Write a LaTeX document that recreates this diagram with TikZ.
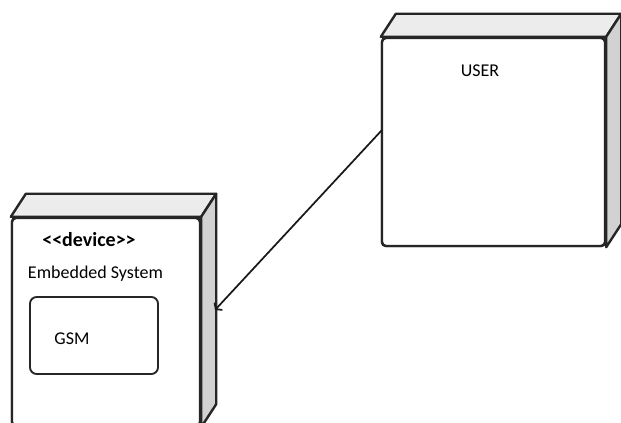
\documentclass[tikz,border=0pt]{standalone}
\usepackage{fontspec}
\setmainfont{Carlito}
\usetikzlibrary{arrows.meta,calc}
\definecolor{sidegray}{RGB}{210,210,210}
\definecolor{topgray}{RGB}{236,236,236}

\begin{document}
\begin{tikzpicture}[x=0.75pt,y=-0.75pt,
		front/.style={draw=black!85,line width=1.8pt,rounded corners=3pt,fill=white,inner sep=0pt},
		face/.style={draw=black!85,line width=1.8pt,line join=round},
		part/.style={draw=black!85,line width=1.4pt,rounded corners=5pt,inner sep=0pt},
		txt/.style={font=\fontsize{13.5}{16}\selectfont,text=black,inner sep=0pt},
		link/.style={draw=black!90,line width=1.3pt,-{Straight Barb[length=3pt,width=8pt]}}]
	\useasboundingbox (0,0) rectangle (621,423);
	\begin{scope}
		\clip (0,0) rectangle (621,423);
		% nodes
		\node[front,minimum width=167.25pt,minimum height=156pt] (user) at (493.5,142) {};
		\node[front,minimum width=141pt,minimum height=156pt] (embedded) at (106,322) {};
		\foreach \n in {user,embedded}{
			\draw[face,fill=topgray] (\n.north west) -- ++(15,-23) -- ($(\n.north east)+(15,-23)$) -- (\n.north east) -- cycle;
			\draw[face,fill=sidegray] (\n.north east) -- ++(15,-23) -- ($(\n.south east)+(15,-23)$) -- (\n.south east) -- cycle;
		}
		\node[front,minimum width=167.25pt,minimum height=156pt] at (user) {};
		\node[front,minimum width=141pt,minimum height=156pt] at (embedded) {};
		\node[part,minimum width=96pt,minimum height=57.75pt] (gsm) at (94,335.5) {};
		% labels
		\node[txt] (userlabel) at (480,71) {USER};
		\node[txt,font=\fontsize{15}{17}\selectfont\bfseries] (stereo) at (89,240) {<{}<device>{}>};
		\node[txt] (emblabel) at (95.5,274) {Embedded System};
		\node[txt] (gsmlabel) at (72,339) {GSM};
		% connector
		\coordinate (portU) at (382,130);
		\coordinate (portE) at (215,310);
		\draw[link] (portU) -- (portE);
	\end{scope}
\end{tikzpicture}
\end{document}
